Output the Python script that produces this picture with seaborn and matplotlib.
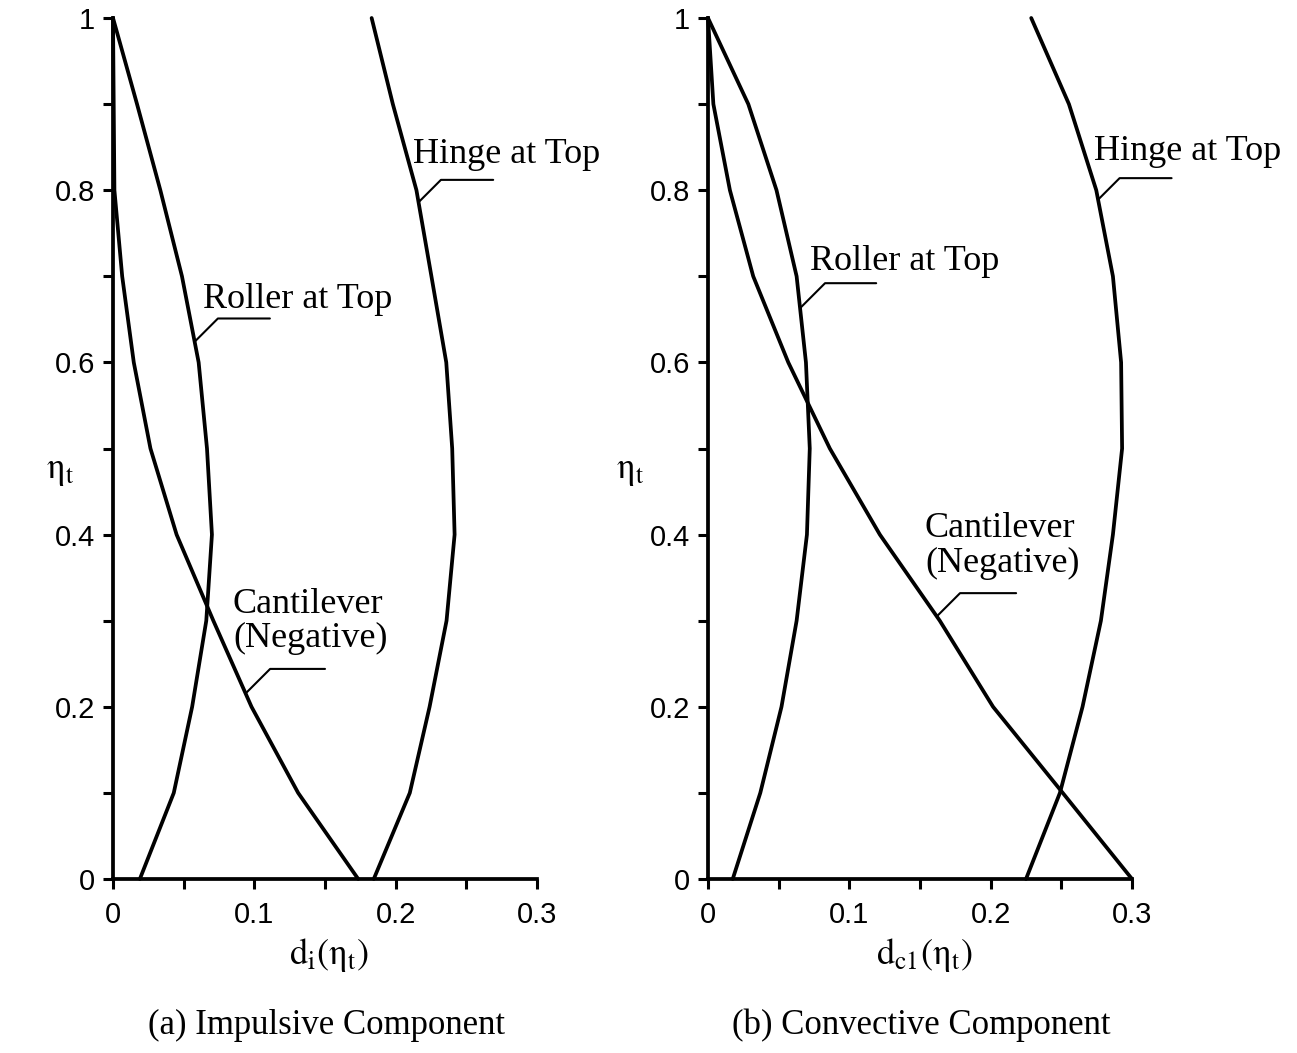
import numpy as np
import matplotlib
matplotlib.use("Agg")
import matplotlib.pyplot as plt
import seaborn as sns

# ---------------- data ----------------
eta = [0.0, 0.1, 0.2, 0.3, 0.4, 0.5, 0.6, 0.7, 0.8, 0.9, 1.0]

# (a) Impulsive component  d_i(eta_t)
hinge_i = [0.1845, 0.210, 0.224, 0.236, 0.2417, 0.240, 0.2358, 0.2253, 0.2147, 0.198, 0.183]
roller_i = [0.019, 0.043, 0.056, 0.066, 0.070, 0.0665, 0.0606, 0.0488, 0.0335, 0.017, 0.0]
cant_i = [0.1735, 0.131, 0.098, 0.071, 0.045, 0.0265, 0.0147, 0.0065, 0.001, 0.0005, 0.0]

# (b) Convective component  d_c1(eta_t)
hinge_c = [0.225, 0.249, 0.265, 0.278, 0.2865, 0.293, 0.2923, 0.2865, 0.2747, 0.2554, 0.2287]
roller_c = [0.0175, 0.037, 0.052, 0.0627, 0.070, 0.072, 0.0693, 0.0627, 0.0485, 0.0285, 0.0]
cant_c = [0.30, 0.251, 0.2017, 0.164, 0.1216, 0.0862, 0.0568, 0.032, 0.0155, 0.0038, 0.0]

x_ticks = [0, 0.1, 0.2, 0.3]
x_ticklabels = ["0", "0.1", "0.2", "0.3"]
y_ticks = [0, 0.2, 0.4, 0.6, 0.8, 1.0]
y_ticklabels = ["0", "0.2", "0.4", "0.6", "0.8", "1"]

# ---------------- style ----------------
sns.set_style("ticks")
plt.rcParams["font.family"] = ["Liberation Sans", "DejaVu Sans"]
plt.rcParams["mathtext.fontset"] = "stix"
for k in ("text.color", "axes.labelcolor", "xtick.color", "ytick.color",
          "axes.edgecolor"):
    plt.rcParams[k] = "black"

SERIF = ["Liberation Serif", "DejaVu Serif"]
LW = 2.7
TXT = 26

fig = plt.figure(figsize=(12.97, 10.53), dpi=100)
W, H = 1297.0, 1053.0
axL = fig.add_axes([113 / W, 1 - 879 / H, 424 / W, 861 / H])
axR = fig.add_axes([708 / W, 1 - 879 / H, 424 / W, 861 / H])


def draw_panel(ax, series, xlabel, ylabel_x, notes):
    for xs in series:
        sns.lineplot(x=xs, y=eta, sort=False, estimator=None, ax=ax,
                     color="black", lw=LW, clip_on=False)
    ax.set_xlim(0, 0.3)
    ax.set_ylim(0, 1)
    sns.despine(ax=ax)
    for s in ("left", "bottom"):
        ax.spines[s].set_linewidth(LW)
        ax.spines[s].set_color("black")
    ax.set_xticks(x_ticks)
    ax.set_xticklabels(x_ticklabels)
    ax.set_xticks([0.05, 0.15, 0.25], minor=True)
    ax.set_yticks(y_ticks)
    ax.set_yticklabels(y_ticklabels)
    ax.set_yticks([0.1, 0.3, 0.5, 0.7, 0.9], minor=True)
    ax.tick_params(which="both", direction="out", length=7, width=2.2,
                   labelsize=21, color="black", labelcolor="black")
    ax.tick_params(axis="x", which="both", pad=9)
    ax.tick_params(axis="y", which="both", pad=6)
    ax.set_xlabel(xlabel, fontsize=TXT, color="black")
    ax.xaxis.set_label_coords(0.51, -0.088)
    ax.xaxis.label.set_va("center")
    ax.set_ylabel(r"$\mathrm{\eta_t}$", fontsize=TXT, rotation=0, color="black")
    ax.yaxis.set_label_coords(ylabel_x, 0.475)
    ax.yaxis.label.set_va("center")
    ax.yaxis.label.set_ha("center")
    for (xs, y_pt, end, lines) in notes:
        x_pt = float(np.interp(y_pt, eta, xs))
        ax.annotate("", xy=(x_pt, y_pt), xytext=end, xycoords="data",
                    textcoords="data", annotation_clip=False,
                    arrowprops=dict(arrowstyle="-", lw=1.5, color="black",
                                    shrinkA=0, shrinkB=0,
                                    connectionstyle="angle,angleA=0,angleB=45,rad=0"))
        for (tx, ty, s) in lines:
            ax.text(tx, ty, s, fontsize=TXT, family=SERIF, ha="left",
                    va="baseline", clip_on=False, color="black")


notes_L = [
    (hinge_i, 0.786, (0.269, 0.812), [(0.212, 0.832, "Hinge at Top")]),
    (roller_i, 0.624, (0.111, 0.651), [(0.0637, 0.663, "Roller at Top")]),
    (cant_i, 0.2155, (0.150, 0.244), [(0.0849, 0.309, "Cantilever"),
                                       (0.0849, 0.269, "(Negative)")]),
]
notes_R = [
    (hinge_c, 0.789, (0.328, 0.814), [(0.2731, 0.835, "Hinge at Top")]),
    (roller_c, 0.663, (0.119, 0.692), [(0.0722, 0.707, "Roller at Top")]),
    (cant_c, 0.305, (0.218, 0.332), [(0.1535, 0.397, "Cantilever"),
                                      (0.1535, 0.357, "(Negative)")]),
]

draw_panel(axL, [hinge_i, roller_i, cant_i],
           r"$\mathrm{d_i(\eta_t)}$", -0.125, notes_L)
draw_panel(axR, [hinge_c, roller_c, cant_c],
           r"$\mathrm{d_{c1}(\eta_t)}$", -0.184, notes_R)

fig.text(327 / W, 1 - 1025 / H, "(a) Impulsive Component", fontsize=25,
         family=SERIF, ha="center", va="center", color="black")
fig.text(921 / W, 1 - 1025 / H, "(b) Convective Component", fontsize=25,
         family=SERIF, ha="center", va="center", color="black")

fig.savefig("out.png", dpi=100)
